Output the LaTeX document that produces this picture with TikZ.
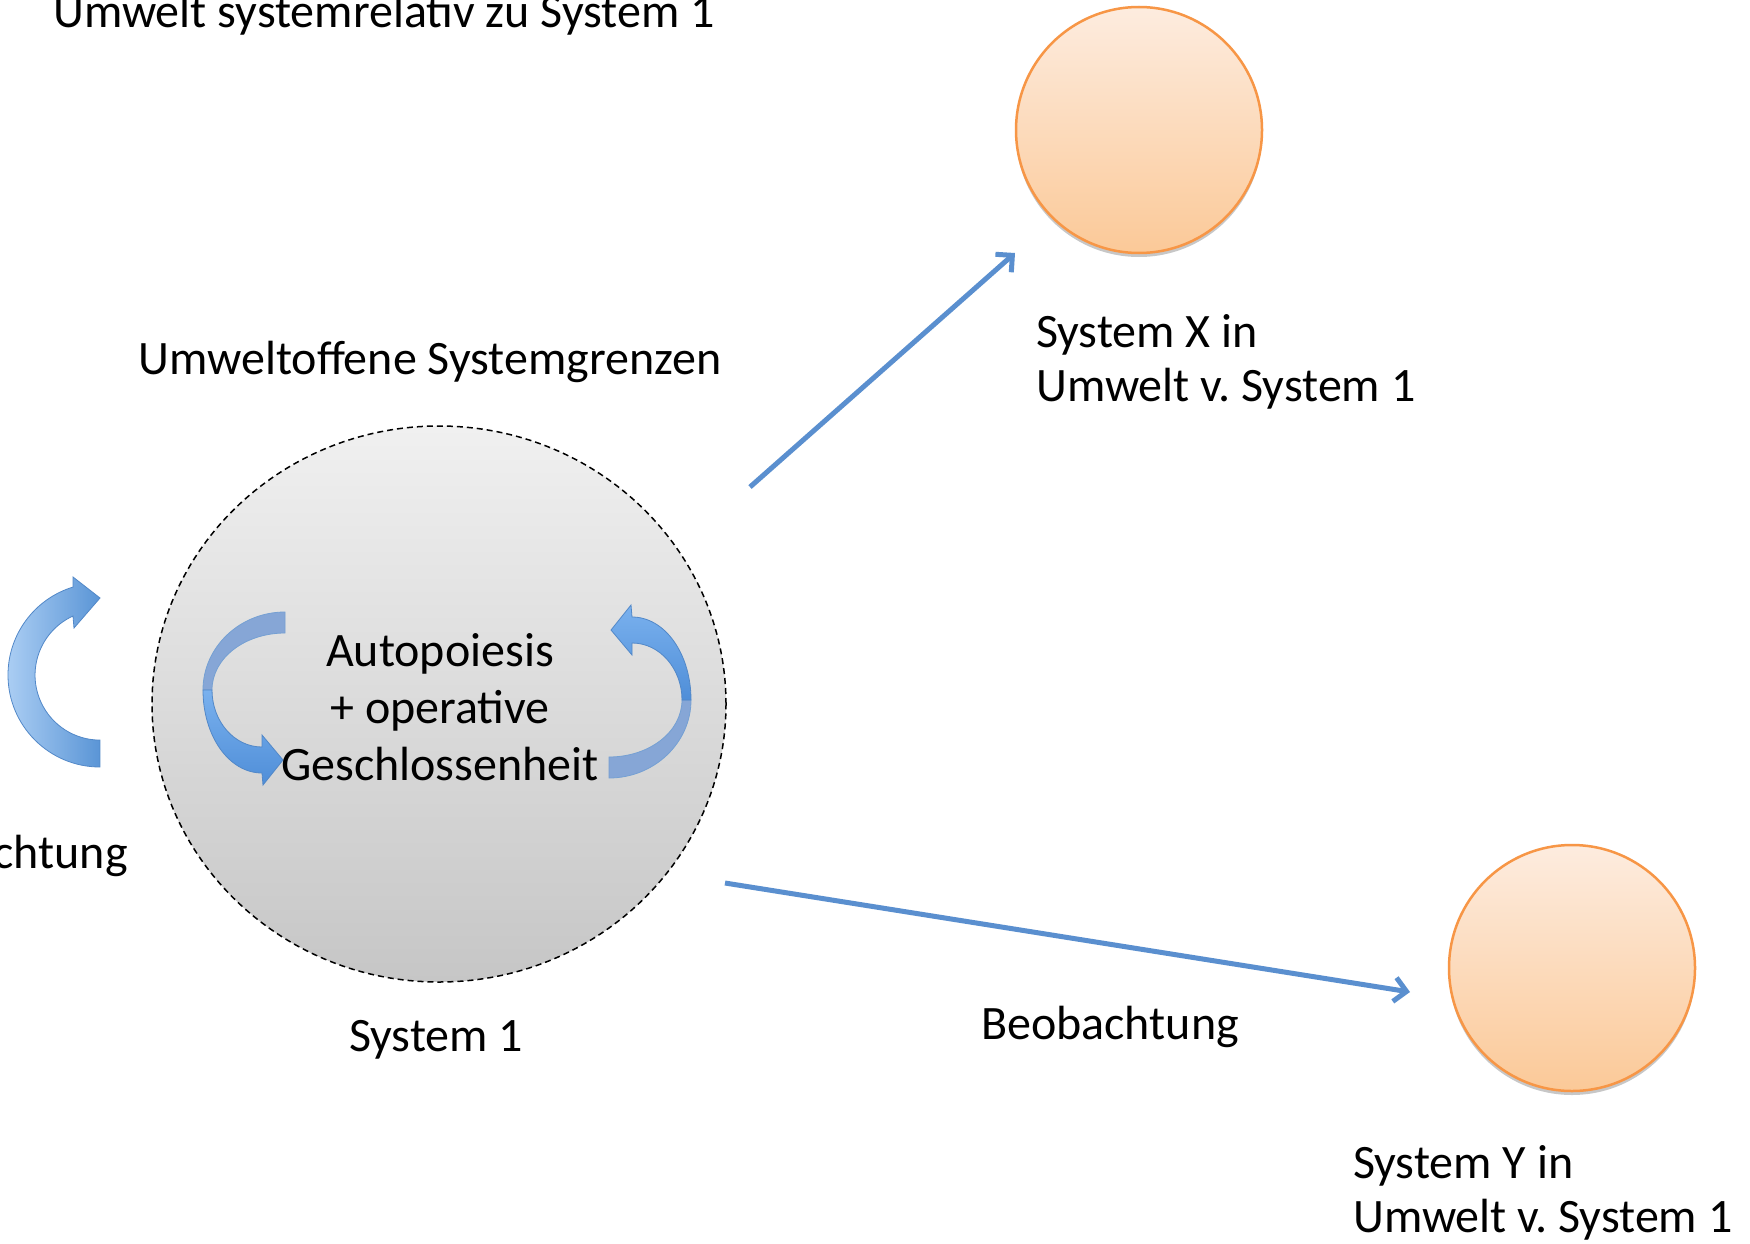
\documentclass[tikz,border=0pt]{standalone}
\usepackage{fontspec}
\setmainfont{Carlito}
\usetikzlibrary{arrows.meta,shadows,shapes.geometric}
\definecolor{arrowblue}{HTML}{5A8FCF}
\definecolor{greytop}{HTML}{F0F0F0}
\definecolor{greybot}{HTML}{C6C6C6}
\definecolor{orangeline}{HTML}{F79646}
\definecolor{orangetop}{HTML}{FDECDF}
\definecolor{orangebot}{HTML}{FBC998}
\definecolor{lightblue}{HTML}{AACDF3}
\definecolor{midblue}{HTML}{5A95D6}
\definecolor{edgeblue}{HTML}{5288C8}
\definecolor{backblue}{HTML}{86A6D6}
\definecolor{frontlight}{HTML}{7AB1EE}
\definecolor{frontdark}{HTML}{4F8ED8}
\frenchspacing
\begin{document}
\begin{tikzpicture}[x=1pt,y=-1pt,
  lbl/.style={inner sep=0pt, font=\fontsize{48}{55}\selectfont, text=black},
  orb/.style={circle, minimum size=246pt, inner sep=0pt, draw=orangeline, line width=2.5pt,
    top color=orangetop, bottom color=orangebot,
    drop shadow={shadow xshift=0pt, shadow yshift=-4pt, opacity=0.22, fill=black}},
  conn/.style={draw=arrowblue, line width=5pt, -{Straight Barb[length=12pt,width=24pt]}},
  backband/.style={fill=backblue, draw=edgeblue!80, line width=0.8pt},
  frontband/.style={top color=frontlight, bottom color=frontdark, draw=edgeblue, line width=0.8pt},
]
\useasboundingbox (0,0) rectangle (1750,1244);
\fill[white] (0,0) rectangle (1750,1244);
\clip (0,0) rectangle (1750,1244);

% main system circle
\node[ellipse, minimum width=574pt, minimum height=556pt, inner sep=0pt, draw=black, line width=1.5pt,
  dash pattern=on 6pt off 4pt, top color=greytop, bottom color=greybot] (sys1) at (439,704) {};

% systems in the environment
\node[orb] (sysX) at (1139,130) {};
\node[orb] (sysY) at (1572,968) {};

% connectors
\coordinate (xs) at (750,487);
\coordinate (xe) at (1015,253);
\coordinate (ys) at (725,883);
\coordinate (ye) at (1410,992);
\draw[conn] (xs) -- (xe);
\draw[conn] (ys) -- (ye);

% outer circular arrow (self observation)
\path[left color=lightblue, right color=midblue, draw=edgeblue, line width=0.8pt]
  (100,767) arc[start angle=90, end angle=253, radius=92]
  -- (73,577) -- (100,598) -- (74,628) -- (73,616)
  arc[start angle=245.4, end angle=90, radius=65] -- cycle;

% inner ribbon arrows
\path[backband] (285,612) .. controls (240,612) and (203,647) .. (203,690)
  -- (212,690) .. controls (212,658) and (245,633) .. (285,633) -- cycle;
\path[frontband] (203,690) .. controls (203,736) and (229,773) .. (262,773)
  -- (263,785) -- (283,760) -- (262,735) -- (262,747)
  .. controls (234,747) and (212,721) .. (212,690) -- cycle;
\begin{scope}[rotate around={180:(447,695)}]
\path[backband] (285,612) .. controls (240,612) and (203,647) .. (203,690)
  -- (212,690) .. controls (212,658) and (245,633) .. (285,633) -- cycle;
\path[frontband] (203,690) .. controls (203,736) and (229,773) .. (262,773)
  -- (263,785) -- (283,760) -- (262,735) -- (262,747)
  .. controls (234,747) and (212,721) .. (212,690) -- cycle;
\end{scope}

% labels
\node[lbl, anchor=base west] (title) at (53,28) {Umwelt systemrelativ zu System 1};
\node[lbl, anchor=base] (bound) at (430,374) {Umweltoffene Systemgrenzen};
\node[lbl, anchor=base] (t1) at (440,666) {Autopoiesis};
\node[lbl, anchor=base] (t2) at (440,723) {+ operative};
\node[lbl, anchor=base] (t3) at (440,780) {Geschlossenheit};
\node[lbl, anchor=base] (s1lbl) at (436,1051) {System 1};
\node[lbl, anchor=base] (beob) at (1110,1039) {Beobachtung};
\node[lbl, anchor=base west] (xl1) at (1036,347) {System X in};
\node[lbl, anchor=base west] (xl2) at (1036,401) {Umwelt v. System 1};
\node[lbl, anchor=base west] (yl1) at (1353,1178) {System Y in};
\node[lbl, anchor=base west] (yl2) at (1353,1232) {Umwelt v. System 1};
\node[lbl, anchor=base east] (sb2) at (128,868) {beobachtung};
\node[lbl, anchor=base west] (sb1) at ([yshift=56pt]sb2.base west) {Selbst-};
\end{tikzpicture}
\end{document}
